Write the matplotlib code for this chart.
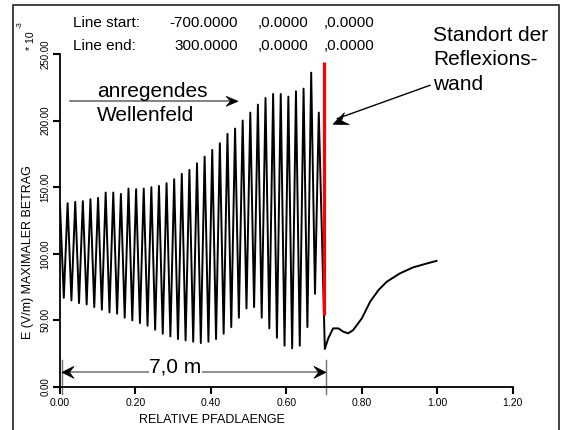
import numpy as np
import matplotlib
matplotlib.use('Agg')
import matplotlib.pyplot as plt
from matplotlib.patches import Rectangle, Polygon
from matplotlib.ticker import FormatStrFormatter
from matplotlib import transforms

plt.rcParams['font.family'] = ['Liberation Sans', 'DejaVu Sans']

# maxima and minima of the field in front of the wall (0 .. 0.686)
peaks = [136.5, 138, 139, 139.5, 141, 142, 146, 146, 145, 149, 148.5, 149,
         150, 151, 153, 156, 160, 163, 168, 173, 178, 183, 190, 194, 200,
         206, 212, 217, 220, 220, 218, 222, 224, 236, 206]
troughs = [67, 65, 63, 62, 60, 58, 56, 55, 52, 50, 48, 46, 43, 40, 38, 36,
           35, 34, 33, 34, 36, 40, 45, 52, 59, 60, 52, 44, 37, 31, 29, 31,
           45, 70]
last_peak_x = 0.686

# field behind the wall
behind_x = [0.702, 0.711, 0.724, 0.738, 0.751, 0.764, 0.777, 0.800, 0.822,
            0.844, 0.866, 0.901, 0.936, 0.972, 0.998]
behind_y = [28.5, 36.5, 44, 44, 41.5, 40.3, 42.7, 51.5, 64, 72.7, 79, 85.3,
            89.8, 92.7, 94.7]

wall_x = 0.70
wall_y = (54, 244)

xticks = [0.0, 0.2, 0.4, 0.6, 0.8, 1.0, 1.2]
yticks = [0, 50, 100, 150, 200, 250]

line_start = ['Line start:', '-700.0000', ',0.0000', ',0.0000']
line_end = ['Line end:', '300.0000', ',0.0000', ',0.0000']

W, H = 562, 430
fig = plt.figure(figsize=(W / 100, H / 100), dpi=100)
ax = fig.add_axes([60 / W, 43 / H, 452.7 / W, 333 / H])


def head(x, y, angle, length=0.13, width=0.055, color='black'):
    # concave arrow head with its tip at (x, y), sized in inches
    verts = np.array([[0, 0], [-length, width], [-0.62 * length, 0],
                      [-length, -width]])
    tr = (transforms.Affine2D().rotate_deg(angle) + fig.dpi_scale_trans +
          transforms.ScaledTranslation(x, y, ax.transData))
    ax.add_patch(Polygon(verts, closed=True, fc=color, ec=color, lw=0.5,
                         transform=tr, clip_on=False, zorder=5))


n = len(peaks) + len(troughs)
front_x = np.linspace(0, last_peak_x, n)
front_y = np.empty(n)
front_y[0::2] = peaks
front_y[1::2] = troughs

xs = np.concatenate([front_x, behind_x])
ys = np.concatenate([front_y, behind_y])
ax.plot(xs, ys, color='black', lw=1.4, zorder=2)

ax.vlines(wall_x, wall_y[0], wall_y[1], color='#ff0000', lw=2.3, zorder=3)

ax.set_xlim(0, 1.2)
ax.set_ylim(0, 250)
ax.set_xticks(xticks)
ax.set_yticks(yticks)
ax.xaxis.set_major_formatter(FormatStrFormatter('%.2f'))
ax.yaxis.set_major_formatter(FormatStrFormatter('%.2f'))
for s in ['top', 'right']:
    ax.spines[s].set_visible(False)
for s in ['left', 'bottom']:
    ax.spines[s].set_linewidth(1.3)
ax.tick_params(direction='out', length=5, width=1.5)
ax.tick_params(axis='x', labelsize=7.5, pad=3)
ax.tick_params(axis='y', labelsize=7, pad=2, labelrotation=90)
for lab in ax.get_yticklabels():
    lab.set_va('center')

fig.text(212 / W, 1 - 420 / H, 'RELATIVE PFADLAENGE', fontsize=9,
         ha='center', va='center')
fig.text(28 / W, 1 - 252 / H, 'E (V/m) MAXIMALER BETRAG', fontsize=9,
         rotation=90, ha='center', va='center')
fig.text(31 / W, 1 - 41 / H, '* 10', fontsize=7.5, rotation=90,
         ha='center', va='center')
fig.text(20 / W, 1 - 25 / H, '-3', fontsize=5.5, rotation=90,
         ha='center', va='center')

# header lines
for row, base in zip([line_start, line_end], [270, 253.3]):
    ax.text(0.0345, base, row[0], fontsize=11, va='baseline', clip_on=False)
    ax.text(0.471, base, row[1], fontsize=11, va='baseline', ha='right',
            clip_on=False)
    ax.text(0.525, base, row[2], fontsize=11, va='baseline', clip_on=False)
    ax.text(0.700, base, row[3], fontsize=11, va='baseline', clip_on=False)

# incoming wave label
ax.text(0.098, 217.5, 'anregendes', fontsize=15, va='baseline')
ax.text(0.098, 200, 'Wellenfeld', fontsize=15, va='baseline')
ax.plot([0.0265, 0.465], [214.5, 214.5], color='#606060', lw=1.1)
head(0.472, 214.5, 0, length=0.12, width=0.05)

# wall label
ax.text(0.9886, 260, 'Standort der', fontsize=15, va='baseline',
        clip_on=False)
ax.text(0.9886, 241.5, 'Reflexions-', fontsize=15, va='baseline',
        clip_on=False)
ax.text(0.9886, 222.75, 'wand', fontsize=15, va='baseline', clip_on=False)
ax.plot([0.9807, 0.735], [226.5, 201.5], color='black', lw=1.0)
head(0.7236, 197.25, 201.9, length=0.15, width=0.065)

# 7,0 m dimension
ax.plot([0.004, 0.004], [-5, 20], color='#707070', lw=1.0, clip_on=False)
ax.plot([0.705, 0.705], [-5, 20], color='#707070', lw=1.0, clip_on=False)
ax.plot([0.012, 0.698], [11, 11], color='#707070', lw=1.1, zorder=4)
head(0.0053, 11, 180, length=0.12, width=0.06)
head(0.705, 11, 0, length=0.12, width=0.06)
ax.text(0.306, 15, '7,0 m', fontsize=15, ha='center', va='center',
        zorder=6, bbox=dict(fc='white', ec='none', pad=0.5))

fig.patches.append(Rectangle((13 / W, -0.1), (559 - 13) / W,
                             0.1 + (1 - 5 / H), fill=False, ec='#222222',
                             lw=1.2, transform=fig.transFigure))

fig.savefig('out.png', dpi=100)
